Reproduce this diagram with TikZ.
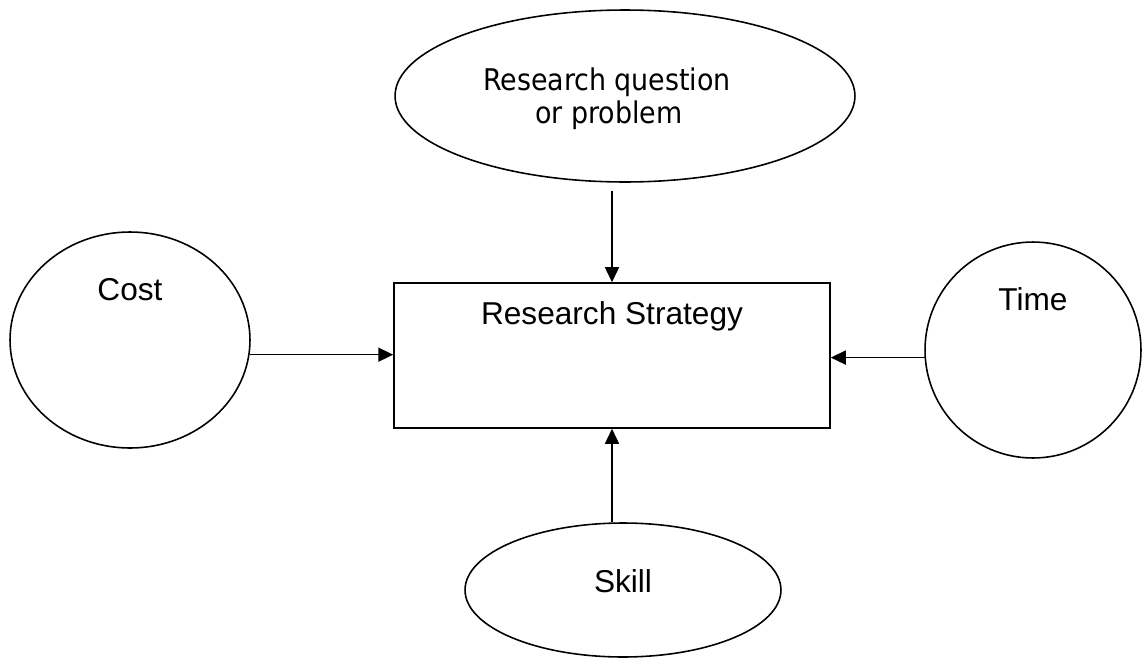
\documentclass[tikz,border=0pt]{standalone}
\usepackage{fontspec}
\setmainfont{Liberation Sans}
\newfontfamily\questionfont{DejaVu Sans Condensed}
\usetikzlibrary{arrows.meta,shapes.geometric}

\begin{document}
\begin{tikzpicture}[x=0.02cm, y=-0.02cm,
    line width=0.9pt,
    conn/.style={-{Triangle[length=0.3cm,width=0.28cm]}},
    oval/.style={draw, ellipse, inner sep=0pt},
    box/.style={draw, rectangle, inner sep=0pt},
    label text/.style={anchor=base, font=\fontsize{18}{21}\selectfont},
    question text/.style={anchor=base, font=\questionfont\fontsize{17}{20}\selectfont}]

    % Keep the margins of the page
    \useasboundingbox (0,0) rectangle (1142,666);

    % Research question at the top
    \node[oval, minimum width=9.2cm, minimum height=3.44cm] (question) at (625,96) {};
    \node[question text] (questionone) at (607,90) {Research question};
    \node[question text] (questiontwo) at (609,123) {or problem};

    % Research strategy box in the middle
    \node[box, minimum width=8.72cm, minimum height=2.9cm] (strategy) at (612,355.5) {};
    \node[label text] (strategytext) at (612,324) {Research Strategy};

    % Cost on the left
    \node[oval, minimum width=4.8cm, minimum height=4.32cm] (cost) at (130,340) {};
    \node[label text] (costtext) at (130,300) {Cost};

    % Time on the right
    \node[oval, minimum width=4.32cm, minimum height=4.32cm] (time) at (1033,350) {};
    \node[label text] (timetext) at (1033,310) {Time};

    % Skill at the bottom
    \node[oval, minimum width=6.32cm, minimum height=2.68cm] (skill) at (623,590) {};
    \node[label text] (skilltext) at (623,592) {Skill};

    % Free ends of the side arrows
    \coordinate (costout) at (cost.-7);
    \coordinate (timeout) at (time.184);

    % Arrows into the strategy box
    \draw[conn, shorten <=0.16cm] (question.south -| strategy.north) -- (strategy.north);
    \draw[conn] (costout) -- (costout -| strategy.west);
    \draw[conn] (timeout) -- (timeout -| strategy.east);
    \draw[conn] (strategy.south |- skill.north) -- (strategy.south);

\end{tikzpicture}
\end{document}
